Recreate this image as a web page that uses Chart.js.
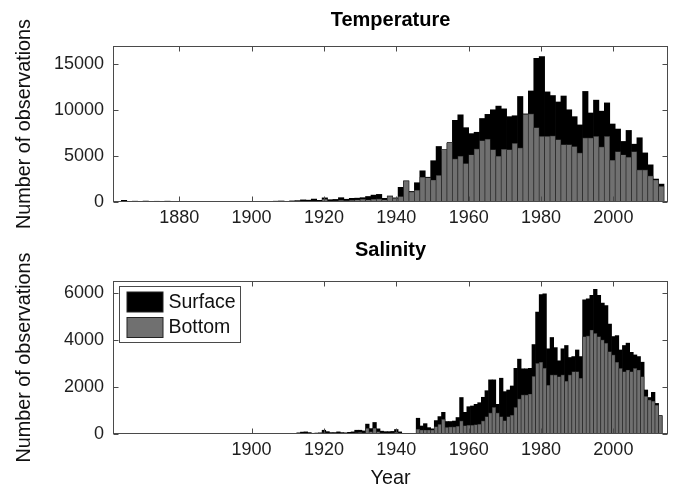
<!DOCTYPE html>
<html>
<head>
<meta charset="utf-8">
<script src="https://cdn.jsdelivr.net/npm/chart.js@4.4.1/dist/chart.umd.min.js"></script>
<style>
  html, body { margin: 0; padding: 0; background: #fff; }
  #wrap { position: relative; width: 674px; height: 488px; overflow: hidden; }
  canvas { position: absolute; left: 0; }
  #cTemp { top: 0; }
  #cSal { top: 235px; }
</style>
</head>
<body>
<div id="wrap">
  <canvas id="cTemp" width="674" height="235"></canvas>
  <canvas id="cSal" width="674" height="253"></canvas>
</div>
<script>
// Temperature profiles: histogram of observation years, 100 bins of 1.5 years from 1864
const tempBinStart = 1864;
const tempBinWidth = 1.5;
const tempSurface = [
  180, 60, 90, 50, 100, 70, 80, 60, 90, 40,
  30, 50, 30, 40, 20, 0, 10, 0, 10, 0,
  10, 0, 10, 0, 20, 10, 20, 40, 90, 110,
  70, 120, 150, 230, 200, 320, 180, 450, 250, 280,
  470, 300, 400, 420, 470, 600, 750, 830, 400, 650,
  450, 1600, 2300, 1150, 2100, 3400, 2700, 4500, 6050, 5500,
  6400, 8900, 9500, 8100, 7450, 7600, 9100, 9550, 10050, 10450,
  10150, 9300, 9400, 11500, 9600, 12100, 15650, 15850, 12000, 11600,
  10900, 11550, 10050, 9300, 8400, 12050, 9700, 11100, 9900, 10800,
  8500, 7950, 6600, 7800, 6300, 7000, 5350, 4050, 2500, 1950
];
const tempBottom = [
  60, 20, 30, 20, 40, 20, 30, 20, 30, 10,
  10, 10, 10, 10, 0, 0, 0, 0, 0, 0,
  0, 0, 0, 0, 0, 0, 10, 10, 30, 40,
  20, 40, 50, 80, 70, 100, 80, 300, 100, 120,
  200, 150, 200, 250, 300, 250, 300, 350, 250, 650,
  400, 600, 2300, 1100, 1300, 2700, 2650, 2400, 2900, 5750,
  6500, 4700, 5000, 4200, 5150, 5800, 6700, 6850, 5700, 5000,
  5750, 5700, 6400, 5900, 9550, 9600, 8100, 7150, 7150, 7200,
  6800, 6250, 6250, 6050, 5350, 7000, 7000, 7150, 6000, 7150,
  4550, 5500, 5150, 4900, 5500, 3500, 3500, 2850, 2400, 1700
];

// Salinity profiles: one bar per year from 1913
const salFirstYear = 1913;
const salSurface = [
  50, 80, 90, 60, 30, 40, 50, 160, 100, 60,
  60, 90, 60, 50, 70, 90, 160, 160, 130, 420,
  230, 490, 220, 120, 100, 100, 110, 190, 90, 0,
  0, 0, 20, 670, 340, 440, 270, 220, 570, 740,
  920, 530, 530, 550, 700, 1550, 920, 1160, 1190, 1260,
  1330, 1560, 1840, 2300, 2300, 1260, 2370, 1800, 1870, 2040,
  2790, 3180, 2770, 2770, 2790, 3800, 5180, 5920, 5950, 3620,
  4100, 3670, 3110, 3620, 3760, 3250, 3290, 3570, 3290, 5700,
  5740, 5890, 6150, 5890, 5560, 5460, 4670, 4140, 4180, 3570,
  3760, 3860, 3470, 3360, 3290, 3050, 1870, 1550, 1770, 1300,
  780
];
const salBottom = [
  20, 30, 40, 20, 10, 20, 20, 60, 40, 20,
  20, 40, 20, 20, 30, 40, 60, 70, 50, 240,
  100, 250, 100, 50, 40, 40, 50, 80, 40, 0,
  0, 0, 10, 210, 170, 170, 170, 170, 310, 410,
  620, 280, 300, 300, 330, 560, 360, 380, 380, 400,
  420, 560, 740, 900, 1130, 900, 740, 570, 740, 800,
  1130, 1490, 1660, 1660, 1700, 2450, 3000, 3050, 2800, 2080,
  2510, 2510, 2440, 2510, 2250, 2510, 2650, 2650, 2370, 4140,
  4170, 4420, 4280, 4140, 4000, 3860, 3500, 3360, 3050, 2790,
  2650, 2720, 2650, 2790, 2720, 2440, 1600, 1450, 1400, 1230,
  780
];

// Axis ticks and limits
const tempXTicks = [1880, 1900, 1920, 1940, 1960, 1980, 2000];
const tempYTicks = [0, 5000, 10000, 15000];
const salXTicks = [1900, 1920, 1940, 1960, 1980, 2000];
const salYTicks = [0, 2000, 4000, 6000];
const yearMin = 1861.7;
const yearMax = 2015.1;
const tempYMax = 17000;
const salYMax = 6500;

const seriesNames = ['Surface', 'Bottom'];
const seriesFill = ['#000000', '#707070'];
const seriesEdge = ['#000000', '#2b2b2b'];

Chart.defaults.font.family = '"Liberation Sans", Arial, Helvetica, sans-serif';
Chart.defaults.color = '#1e1e1e';

const tempCenters = tempSurface.map((_, i) => tempBinStart + tempBinWidth * (i + 0.5));
const salYears = salSurface.map((_, i) => salFirstYear + i);

function toPoints(xs, ys) {
  return ys.map((v, i) => ({ x: xs[i], y: v }));
}

// Box around the axes with inward tick marks on all four sides
const framePlugin = {
  id: 'frame',
  afterDatasetsDraw(chart) {
    const { ctx, chartArea: a, scales: { x, y } } = chart;
    const L = Math.round(a.left) + 0.5, R = Math.round(a.right) - 0.5;
    const T = Math.round(a.top) + 0.5, B = Math.round(a.bottom) - 0.5;
    const len = 5;
    ctx.save();
    ctx.strokeStyle = '#4a4a4a';
    ctx.lineWidth = 1;
    ctx.beginPath();
    x.ticks.forEach(t => {
      const px = Math.round(x.getPixelForValue(t.value)) + 0.5;
      ctx.moveTo(px, B); ctx.lineTo(px, B - len);
      ctx.moveTo(px, T); ctx.lineTo(px, T + len);
    });
    y.ticks.forEach(t => {
      const py = Math.round(y.getPixelForValue(t.value)) + 0.5;
      ctx.moveTo(L, py); ctx.lineTo(L + len, py);
      ctx.moveTo(R, py); ctx.lineTo(R - len, py);
    });
    ctx.stroke();
    ctx.strokeRect(L, T, R - L, B - T);
    ctx.restore();
  }
};

// Boxed legend in the upper-left corner of the plot area
const boxLegendPlugin = {
  id: 'boxLegend',
  afterDraw(chart, args, opts) {
    if (!opts.display) return;
    const { ctx, chartArea: a } = chart;
    const bx = Math.round(a.left) + 6.5, by = Math.round(a.top) + 5.5;
    const bw = 121, bh = 56;
    ctx.save();
    ctx.fillStyle = '#ffffff';
    ctx.fillRect(bx, by, bw, bh);
    ctx.strokeStyle = '#4a4a4a';
    ctx.lineWidth = 1;
    ctx.strokeRect(bx, by, bw, bh);
    ctx.font = '19.5px "Liberation Sans", Arial, sans-serif';
    ctx.textBaseline = 'middle';
    ctx.textAlign = 'left';
    chart.data.datasets.forEach((ds, i) => {
      const sy = by + 5.5 + i * 25.5;
      ctx.fillStyle = ds.backgroundColor;
      ctx.fillRect(bx + 7.5, sy, 36, 20);
      ctx.strokeStyle = '#222';
      ctx.strokeRect(bx + 7.5, sy, 36, 20);
      ctx.fillStyle = '#111';
      ctx.fillText(ds.label, bx + 49, sy + 10.5);
    });
    ctx.restore();
  }
};

function makeChart(canvasId, cfg) {
  const datasets = [0, 1].map(i => ({
    label: seriesNames[i],
    data: toPoints(cfg.xs, cfg.series[i]),
    backgroundColor: seriesFill[i],
    borderColor: seriesEdge[i],
    borderWidth: i === 0 ? 0 : 0.7,
    grouped: false,
    order: i === 0 ? 1 : 0,
    barPercentage: 1,
    categoryPercentage: 1
  }));
  return new Chart(document.getElementById(canvasId), {
    type: 'bar',
    data: { datasets },
    plugins: [framePlugin, boxLegendPlugin],
    options: {
      responsive: false,
      animation: false,
      events: [],
      layout: { padding: { left: 0, right: 6, top: 0, bottom: 0 } },
      plugins: {
        legend: { display: false },
        tooltip: { enabled: false },
        title: {
          display: true,
          text: cfg.title,
          fullSize: false,
          color: '#000',
          font: { size: 20, weight: 'bold', lineHeight: 1.2 },
          padding: cfg.titlePad
        },
        boxLegend: { display: cfg.legend }
      },
      scales: {
        x: {
          type: 'linear',
          offset: false,
          min: yearMin,
          max: yearMax,
          grid: { display: false, drawTicks: false, offset: false },
          border: { display: false },
          afterBuildTicks: s => { s.ticks = cfg.xTicks.map(v => ({ value: v })); },
          afterFit: s => { s.height = cfg.xHeight; },
          ticks: {
            autoSkip: false,
            maxRotation: 0,
            padding: 5,
            font: { size: 18 },
            color: '#1e1e1e',
            callback: v => String(v)
          },
          title: {
            display: !!cfg.xTitle,
            text: cfg.xTitle || '',
            color: '#111',
            font: { size: 19.8, lineHeight: 1 },
            padding: { top: 0, bottom: 0 }
          }
        },
        y: {
          min: 0,
          max: cfg.yMax,
          grid: { display: false, drawTicks: false },
          border: { display: false },
          afterBuildTicks: s => { s.ticks = cfg.yTicks.map(v => ({ value: v })); },
          afterFit: s => { s.width = 113; },
          ticks: {
            padding: 9,
            font: { size: 18 },
            color: '#1e1e1e',
            callback: v => String(v)
          },
          title: {
            display: true,
            text: 'Number of observations',
            color: '#111',
            font: { size: 19.8, lineHeight: 1 },
            padding: { top: 15, bottom: 0 }
          }
        }
      }
    }
  });
}

makeChart('cTemp', {
  title: 'Temperature',
  titlePad: { top: 8, bottom: 14 },
  xs: tempCenters,
  series: [tempSurface, tempBottom],
  xTicks: tempXTicks,
  yTicks: tempYTicks,
  yMax: tempYMax,
  xHeight: 33,
  legend: false
});

makeChart('cSal', {
  title: 'Salinity',
  titlePad: { top: 3, bottom: 19 },
  xs: salYears,
  series: [salSurface, salBottom],
  xTicks: salXTicks,
  yTicks: salYTicks,
  yMax: salYMax,
  xHeight: 54,
  xTitle: 'Year',
  legend: true
});
</script>
</body>
</html>
